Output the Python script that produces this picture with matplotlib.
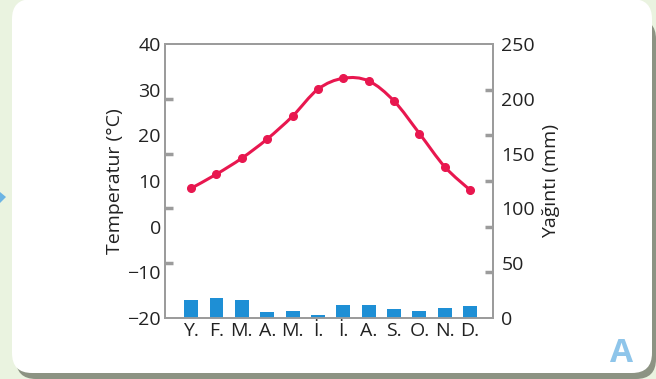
import numpy as np
import matplotlib.pyplot as plt
from matplotlib.path import Path
from matplotlib.patches import PathPatch, FancyBboxPatch, Polygon
from matplotlib.transforms import IdentityTransform

plt.rcParams['font.family'] = ['Open Sans', 'DejaVu Sans']

months = ['Y.', 'F.', 'M.', 'A.', 'M.', 'İ.', 'İ.', 'A.', 'S.', 'O.', 'N.', 'D.']
temp = [8.4, 11.5, 15.0, 19.2, 24.2, 30.1, 32.5, 31.9, 27.5, 20.4, 13.1, 8.0]
rain = [16.5, 18.3, 16.5, 5.5, 6.4, 2.7, 11.9, 11.9, 8.2, 6.4, 9.2, 11.0]
temp_ticks = [-20, -10, 0, 10, 20, 30, 40]
rain_ticks = [0, 50, 100, 150, 200, 250]

line_col = '#e8174f'
bar_col = '#1e8fd5'
grey = '#9c9c9c'
txt = '#222222'
fs = 14

fig = plt.figure(figsize=(6.56, 3.79), dpi=100)
fig.patch.set_facecolor('#eaf3e0')

# card with shadow (pixel coords, origin bottom left)
px = IdentityTransform()
fig.patches.append(FancyBboxPatch((16, 0), 640, 360, boxstyle='round,pad=0,rounding_size=20',
                                  transform=px, facecolor='#8c9383', edgecolor='none', zorder=-3))
fig.patches.append(FancyBboxPatch((12, 6), 640, 374, boxstyle='round,pad=0,rounding_size=20',
                                  transform=px, facecolor='white', edgecolor='none', zorder=-2))
fig.patches.append(Polygon([[0, 187], [6, 182], [0, 176]], closed=True, transform=px,
                           facecolor='#6cb4e4', edgecolor='none'))

ax = fig.add_axes([165 / 656, 1 - 318 / 379, 328 / 656, 274 / 379])
ax.set_facecolor('none')
ax2 = ax.twinx()

x = np.arange(len(months))
ax2.bar(x, rain, width=0.55, color=bar_col, zorder=2)

# smooth temperature curve (Catmull-Rom as Bezier segments)
pts = np.column_stack([x, temp]).astype(float)
ext = np.vstack([pts[0], pts, pts[-1]])
verts = [tuple(pts[0])]
codes = [Path.MOVETO]
for i in range(len(pts) - 1):
    p0, p1, p2, p3 = ext[i], ext[i + 1], ext[i + 2], ext[i + 3]
    verts += [tuple(p1 + (p2 - p0) / 6), tuple(p2 - (p3 - p1) / 6), tuple(p2)]
    codes += [Path.CURVE4] * 3
ax.add_patch(PathPatch(Path(verts, codes), facecolor='none', edgecolor=line_col,
                       lw=2.2, zorder=3))
ax.plot(x, temp, 'o', color=line_col, ms=5.5, zorder=4)

ax.set_xlim(-1.03, 11.9)
ax.set_ylim(-20, 40)
ax2.set_ylim(0, 250)

ax.set_xticks(x, months)
ax.tick_params(axis='x', length=0, pad=3, labelsize=fs, labelcolor=txt)

# left: labels for temperature, tick marks follow the rain scale
ax.set_yticks(temp_ticks)
ax.set_yticks([-20 + r * 60 / 250 for r in rain_ticks[1:-1]], minor=True)
ax.tick_params(axis='y', which='major', length=0, pad=3, labelsize=fs, labelcolor=txt)
ax.tick_params(axis='y', which='minor', direction='in', length=6, width=2.5, color=grey)

# right: labels for rain, tick marks follow the temperature scale
ax2.set_yticks(rain_ticks)
ax2.set_yticks([(t + 20) * 250 / 60 for t in temp_ticks[1:-1]], minor=True)
ax2.tick_params(axis='y', which='major', length=0, pad=6, labelsize=fs, labelcolor=txt)
ax2.tick_params(axis='y', which='minor', direction='in', length=6, width=2.5, color=grey)

for a in (ax, ax2):
    for s in a.spines.values():
        s.set_color(grey)
        s.set_linewidth(1.3)

ax.set_ylabel('Temperatur (°C)', fontsize=fs, color=txt, labelpad=2)
ax2.set_ylabel('Yağıntı (mm)', fontsize=fs, color=txt, labelpad=5)

fig.text(622 / 656, 1 - 354 / 379, 'A', fontsize=24, fontweight='bold',
         color='#8ec5ea', ha='center', va='center')

fig.savefig('out.png', dpi=100, facecolor=fig.get_facecolor())
